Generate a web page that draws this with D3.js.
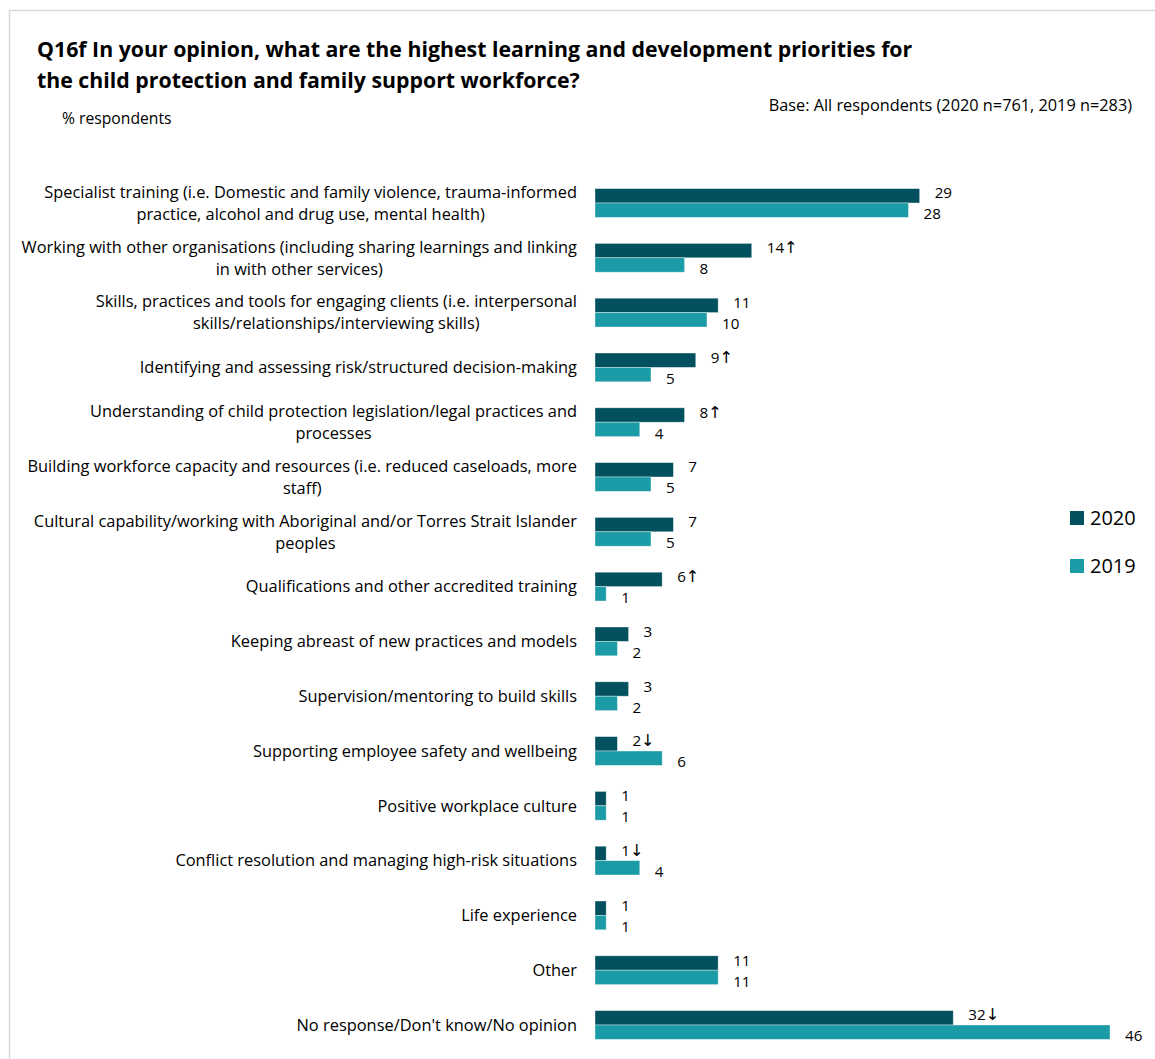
<!DOCTYPE html>
<html>
<head>
<meta charset="utf-8">
<script src="https://cdn.jsdelivr.net/npm/d3@7"></script>
<style>
  html, body { margin: 0; padding: 0; background: #fff; }
  svg { display: block; }
  text { font-family: "Open Sans", "Noto Sans", sans-serif; fill: #000; }
</style>
</head>
<body>
<svg id="chart" width="1155" height="1059"></svg>
<script>
// Response categories (line breaks mark where each label wraps)
const categories = [
  "Specialist training (i.e. Domestic and family violence, trauma-informed\npractice, alcohol and drug use, mental health)",
  "Working with other organisations (including sharing learnings and linking\nin with other services)",
  "Skills, practices and tools for engaging clients (i.e. interpersonal\nskills/relationships/interviewing skills)",
  "Identifying and assessing risk/structured decision-making",
  "Understanding of child protection legislation/legal practices and\nprocesses",
  "Building workforce capacity and resources (i.e. reduced caseloads, more\nstaff)",
  "Cultural capability/working with Aboriginal and/or Torres Strait Islander\npeoples",
  "Qualifications and other accredited training",
  "Keeping abreast of new practices and models",
  "Supervision/mentoring to build skills",
  "Supporting employee safety and wellbeing",
  "Positive workplace culture",
  "Conflict resolution and managing high-risk situations",
  "Life experience",
  "Other",
  "No response/Don't know/No opinion"
];

// % respondents per year
const series2020 = [29, 14, 11, 9, 8, 7, 7, 6, 3, 3, 2, 1, 1, 1, 11, 32];
const series2019 = [28, 8, 10, 5, 4, 5, 5, 1, 2, 2, 6, 1, 4, 1, 11, 46];

// Significant change in 2020 vs 2019
const change2020 = ["", "up", "", "up", "up", "", "", "up", "", "", "down", "", "down", "", "", "down"];

const seriesNames = ["2020", "2019"];
const seriesColors = ["#03505f", "#1a9ba6"];

const title = [
  "Q16f In your opinion, what are the highest learning and development priorities for",
  "the child protection and family support workforce?"
];
const subtitle = "% respondents";
const baseNote = "Base: All respondents (2020 n=761, 2019 n=283)";

const svg = d3.select("#chart");

// Panel frame
svg.append("path")
  .attr("d", "M9.5,1059 V10.5 H1155")
  .attr("fill", "none")
  .attr("stroke", "#d9d9d9")
  .attr("stroke-width", 1.5);

// Titles
svg.append("g").selectAll("text").data(title).join("text")
  .attr("x", 37)
  .attr("y", (d, i) => 57 + i * 31)
  .attr("font-size", 21.3)
  .attr("font-weight", "bold")
  .text(d => d);

svg.append("text")
  .attr("x", 62).attr("y", 124)
  .attr("font-size", 15.7)
  .text(subtitle);

svg.append("text")
  .attr("x", 1132).attr("y", 111)
  .attr("text-anchor", "end")
  .attr("font-size", 16.3)
  .text(baseNote);

// Scales
const x = d3.scaleLinear().domain([0, 46]).range([595, 1110]);
const pad = 1 - 28.8 / 54.8;
const y = d3.scaleBand()
  .domain(d3.range(categories.length))
  .range([175.6, 1052.4])
  .paddingInner(pad)
  .paddingOuter(pad / 2);
const ySub = d3.scaleBand().domain(seriesNames).range([0, y.bandwidth()]);

const rows = categories.map((c, i) => ({
  label: c,
  values: [series2020[i], series2019[i]],
  change: change2020[i],
  i
}));

const rowG = svg.append("g").selectAll("g").data(rows).join("g")
  .attr("transform", d => `translate(0,${y(d.i)})`);

// Bars
rowG.selectAll("rect").data(d => d.values.map((v, k) => ({ v, k })))
  .join("rect")
  .attr("x", x(0))
  .attr("y", d => ySub(seriesNames[d.k]))
  .attr("width", d => x(d.v) - x(0))
  .attr("height", ySub.bandwidth())
  .attr("fill", d => seriesColors[d.k])
  .attr("stroke", "#ffffff")
  .attr("stroke-opacity", 0.5)
  .attr("stroke-width", 0.75);

// Value labels, with significance arrows on 2020
const mid = y.bandwidth() / 2;
rowG.each(function (d) {
  const g = d3.select(this);
  d.values.forEach((v, k) => {
    const arrow = k === 0 && d.change === "up" ? "\u2191" : k === 0 && d.change === "down" ? "\u2193" : "";
    const t = g.append("text")
      .attr("x", x(v) + 15)
      .attr("y", mid + (k === 0 ? -10 : 11))
      .attr("dy", "0.35em")
      .attr("font-size", 15.2)
      .text(v);
    if (arrow) {
      t.append("tspan")
        .attr("font-family", "DejaVu Sans, sans-serif")
        .attr("font-size", 16.5)
        .text(arrow);
    }
  });
});

// Category labels: a centred block ending at the axis
const labelRight = 577;
rowG.each(function (d) {
  const g = d3.select(this);
  const lines = d.label.split("\n");
  const lineGap = 22;
  const texts = lines.map((ln, j) => g.append("text")
    .attr("y", mid + (j - (lines.length - 1) / 2) * lineGap)
    .attr("dy", "0.35em")
    .attr("font-size", 16.4)
    .attr("text-anchor", "middle")
    .text(ln));
  const w = d3.max(texts, t => t.node().getComputedTextLength());
  texts.forEach(t => t.attr("x", labelRight - w / 2));
});

// Legend
const legend = svg.append("g").selectAll("g").data(seriesNames).join("g")
  .attr("transform", (d, i) => `translate(1070,${518 + i * 48})`);
legend.append("rect")
  .attr("x", 0).attr("y", -7)
  .attr("width", 14).attr("height", 14)
  .attr("fill", (d, i) => seriesColors[i]);
legend.append("text")
  .attr("x", 20).attr("y", 0).attr("dy", "0.35em")
  .attr("font-size", 20)
  .text(d => d);
</script>
</body>
</html>
